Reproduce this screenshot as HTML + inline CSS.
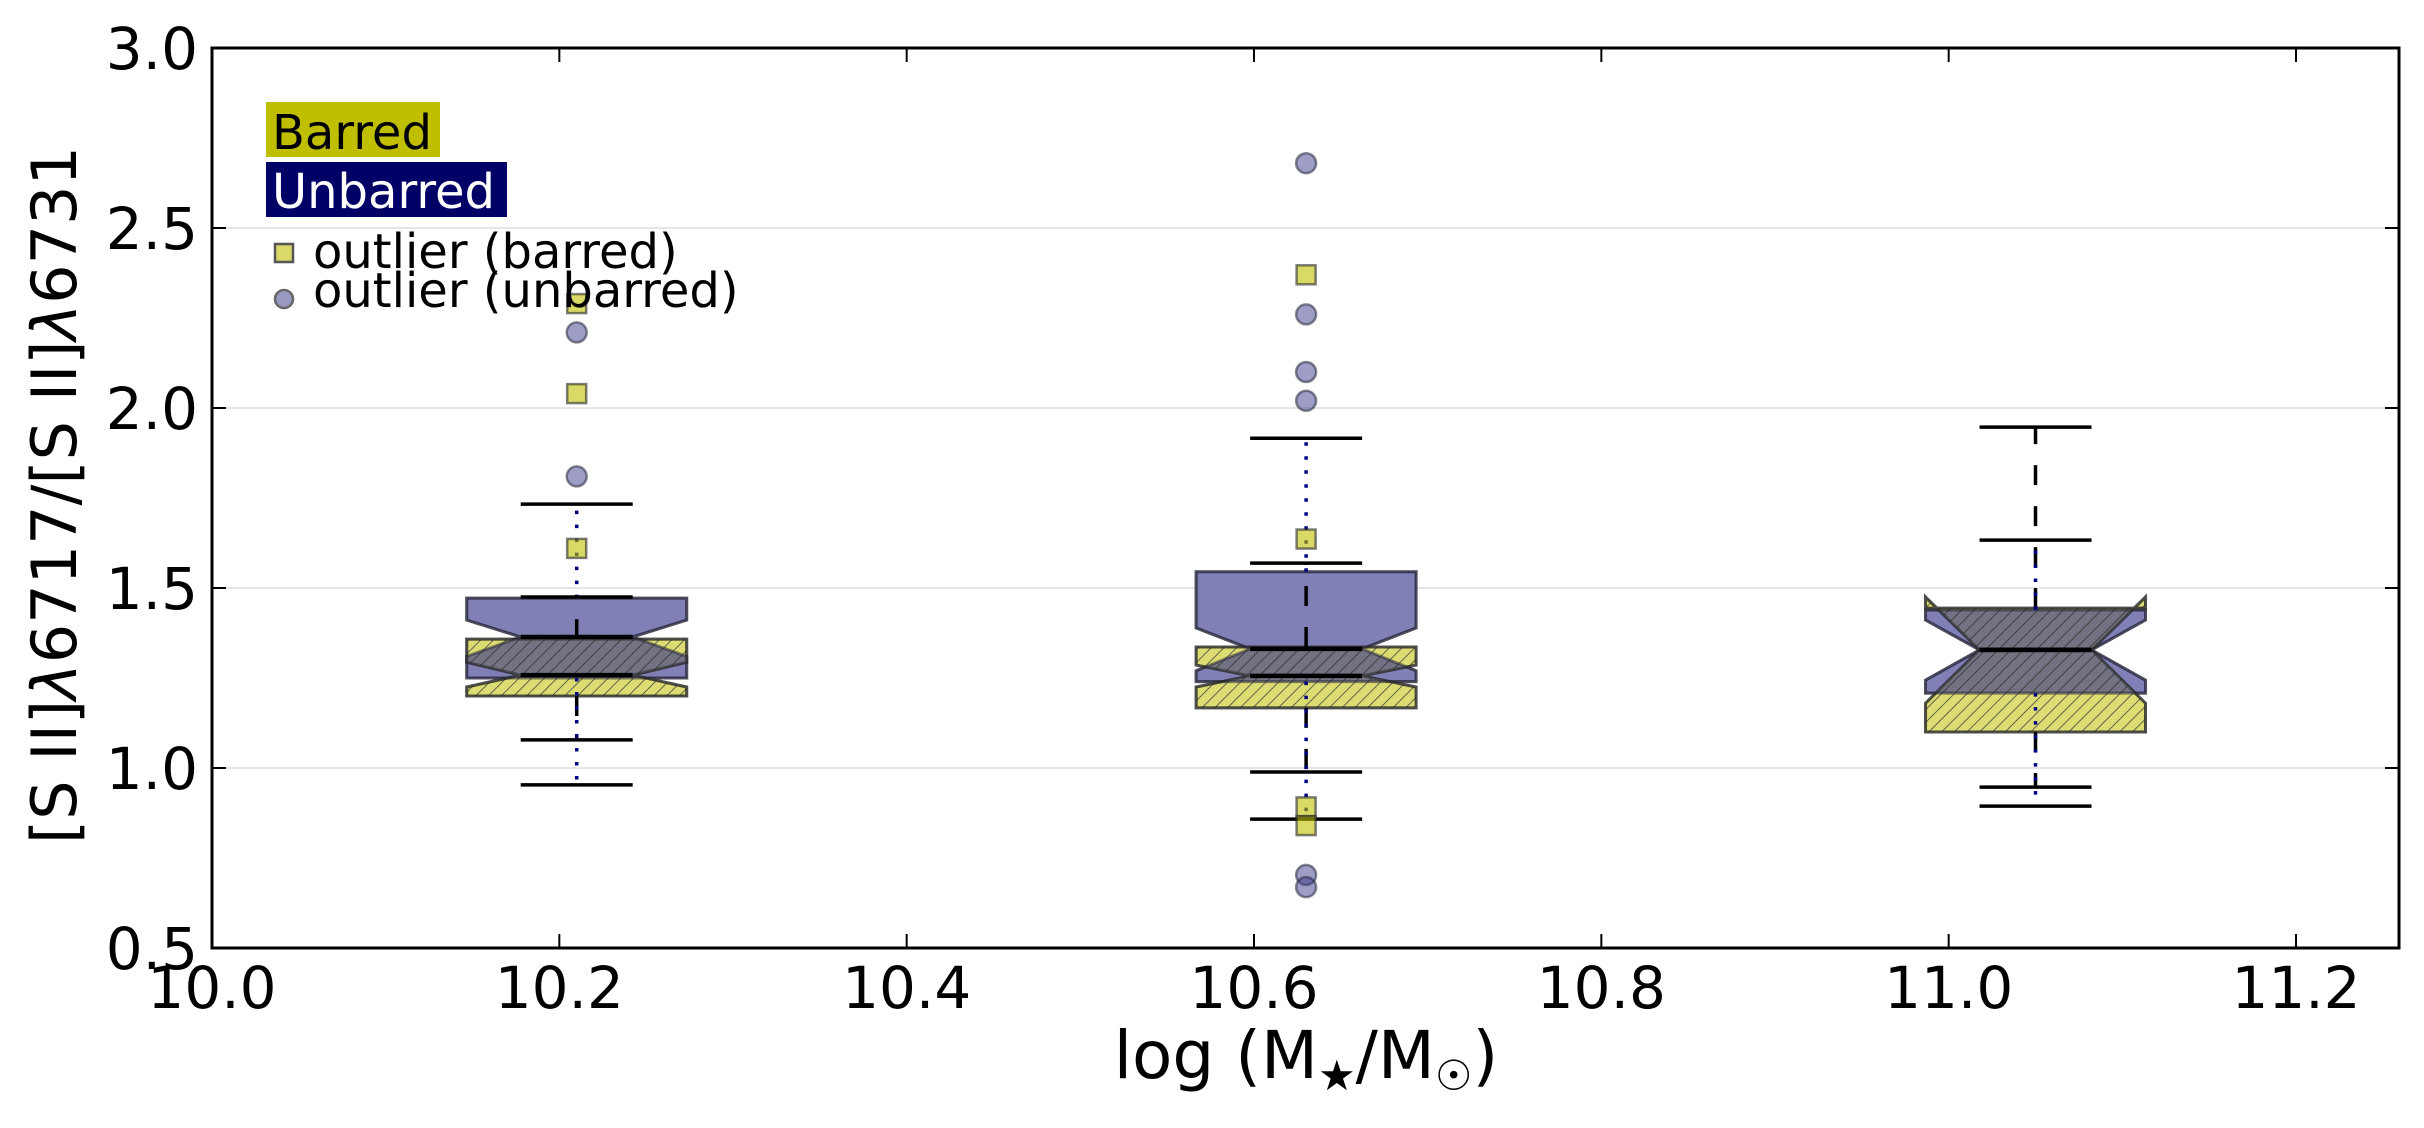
<!DOCTYPE html>
<html><head><meta charset="utf-8"><style>
html,body{margin:0;padding:0;background:#fff;}
svg{display:block;font-family:"DejaVu Sans","Liberation Sans",sans-serif;}
</style></head><body>
<svg id="chart" width="2424" height="1128" viewBox="0 0 2424 1128" xmlns="http://www.w3.org/2000/svg">
<defs id="defs">
<pattern id="hatch" patternUnits="userSpaceOnUse" width="9" height="9" patternTransform="rotate(45)">
<rect width="9" height="9" fill="#dcdc72"/>
<line x1="0" y1="0" x2="0" y2="9" stroke="#444" stroke-width="1.6"/>
</pattern>
<pattern id="hatchgray" patternUnits="userSpaceOnUse" width="9" height="9" patternTransform="rotate(45)">
<rect width="9" height="9" fill="#727282"/>
<line x1="0" y1="0" x2="0" y2="9" stroke="#333" stroke-width="1.6"/>
</pattern>
<clipPath id="plotclip"><rect x="212" y="48" width="2187" height="900"/></clipPath>
</defs>
<rect x="0" y="0" width="2424" height="1128" fill="#fff"/>
<g id="grid"></g>
<g id="marks" clip-path="url(#plotclip)"></g>
<rect x="212" y="48" width="2187" height="900" fill="none" stroke="#000" stroke-width="3"/>
<g id="axes"></g>
<g>
<rect x="266" y="102" width="174" height="55" fill="#bfbf00"/>
<text x="272" y="149" font-size="48" fill="#000">Barred</text>
<rect x="266" y="162" width="241" height="55" fill="#000066"/>
<text x="272" y="208" font-size="48" fill="#fff">Unbarred</text>
<rect x="275" y="244" width="18" height="18" fill="#d9d96a" stroke="#555" stroke-width="2.5"/>
<text x="313" y="268" font-size="48" fill="#000">outlier (barred)</text>
<circle cx="284" cy="299" r="9" fill="#9999c4" stroke="#666" stroke-width="2.5"/>
<text x="313" y="307" font-size="48" fill="#000">outlier (unbarred)</text>
</g>
<text x="1306" y="1078" font-size="66" text-anchor="middle" fill="#000">log (M<tspan font-size="42" dy="12">★</tspan><tspan dy="-12">/M</tspan><tspan font-size="42" dy="12">☉</tspan><tspan dy="-12">)</tspan></text>
<text transform="translate(76,495) rotate(-90)" font-size="62" text-anchor="middle" fill="#000">[S II]<tspan font-style="italic">λ</tspan>6717/[S II]<tspan font-style="italic">λ</tspan>6731</text>
</svg>
<script>
const groupX = [10.21, 10.63, 11.05];
const barredQ1 = [1.20, 1.167, 1.10];
const barredMed = [1.258, 1.256, 1.328];
const barredQ3 = [1.358, 1.336, 1.444];
const barredNotchLo = [1.225, 1.225, 1.18];
const barredNotchHi = [1.294, 1.286, 1.475];
const barredWhiskerLo = [1.078, 0.989, 0.947];
const barredWhiskerHi = [1.475, 1.569, 1.947];
const unbarredQ1 = [1.25, 1.24, 1.208];
const unbarredMed = [1.364, 1.331, 1.328];
const unbarredQ3 = [1.472, 1.545, 1.439];
const unbarredNotchLo = [1.31, 1.27, 1.244];
const unbarredNotchHi = [1.411, 1.389, 1.411];
const unbarredWhiskerLo = [0.953, 0.858, 0.894];
const unbarredWhiskerHi = [1.733, 1.916, 1.633];
const barredOutlierGroup = [0, 0, 0, 1, 1, 1, 1];
const barredOutlierVal = [2.29, 2.04, 1.61, 2.37, 1.636, 0.892, 0.84];
const unbarredOutlierGroup = [0, 0, 1, 1, 1, 1, 1, 1];
const unbarredOutlierVal = [2.21, 1.81, 2.68, 2.26, 2.10, 2.02, 0.703, 0.669];
const xTicks = [10.0, 10.2, 10.4, 10.6, 10.8, 11.0, 11.2];
const xTickLabels = ["10.0", "10.2", "10.4", "10.6", "10.8", "11.0", "11.2"];
const yTicks = [0.5, 1.0, 1.5, 2.0, 2.5, 3.0];
const yTickLabels = ["0.5", "1.0", "1.5", "2.0", "2.5", "3.0"];
const gridVals = [1.0, 1.5, 2.0, 2.5];

const L = 212, R = 2399, T = 48, B = 948;
const xMin = 10.0, xMax = 11.2593, yMin = 0.5, yMax = 3.0;
function xs(v){ return L + (v - xMin) / (xMax - xMin) * (R - L); }
function ys(v){ return B - (v - yMin) / (yMax - yMin) * (B - T); }
const NS = "http://www.w3.org/2000/svg";
function mk(tag, attrs, parent){
  const e = document.createElementNS(NS, tag);
  for (const k in attrs) e.setAttribute(k, attrs[k]);
  parent.appendChild(e);
  return e;
}
const grid = document.getElementById('grid');
const marks = document.getElementById('marks');
const axes = document.getElementById('axes');
const defs = document.getElementById('defs');

gridVals.forEach(v => {
  const g = mk('line', {x1: L, x2: R, y1: ys(v), y2: ys(v), stroke: '#e6e6e6', 'stroke-width': 2}, grid);
  
  
});

const HW = 110, NW = 56;
function boxPath(cx, q1, nlo, med, nhi, q3){
  const l = cx - HW, r = cx + HW, cl = cx - NW, cr = cx + NW;
  return `M${l},${ys(q1)} L${l},${ys(nlo)} L${cl},${ys(med)} L${l},${ys(nhi)} L${l},${ys(q3)} L${r},${ys(q3)} L${r},${ys(nhi)} L${cr},${ys(med)} L${r},${ys(nlo)} L${r},${ys(q1)} Z`;
}

groupX.forEach((gx, i) => {
  const cx = xs(gx);
  const ubD = boxPath(cx, unbarredQ1[i], unbarredNotchLo[i], unbarredMed[i], unbarredNotchHi[i], unbarredQ3[i]);
  const bbD = boxPath(cx, barredQ1[i], barredNotchLo[i], barredMed[i], barredNotchHi[i], barredQ3[i]);
  const cp = mk('clipPath', {id: 'ubclip' + i}, defs);
  mk('path', {d: ubD}, cp);
  const ub = mk('path', {d: ubD, fill: '#8080b6', stroke: 'rgba(40,40,60,0.6)', 'stroke-width': 3}, marks);
  
  
  const bb = mk('path', {d: bbD, fill: 'url(#hatch)', stroke: 'rgba(40,40,40,0.6)', 'stroke-width': 3}, marks);
  
  
  const ov = mk('path', {d: bbD, fill: 'url(#hatchgray)', 'clip-path': 'url(#ubclip' + i + ')'}, marks);
  
  
  const ubo = mk('path', {d: ubD, fill: 'none', stroke: 'rgba(40,40,60,0.55)', 'stroke-width': 3}, marks);
  
  
  const bbo = mk('path', {d: bbD, fill: 'none', stroke: 'rgba(40,40,40,0.55)', 'stroke-width': 3}, marks);
  
  

  [[barredQ3[i], barredWhiskerHi[i]], [barredQ1[i], barredWhiskerLo[i]]].forEach(p => {
    const w = mk('line', {x1: cx, x2: cx, y1: ys(p[0]), y2: ys(p[1]), stroke: '#000', 'stroke-width': 3.5, 'stroke-dasharray': '20 21'}, marks);
    
    
  });
  [[unbarredQ3[i], unbarredWhiskerHi[i]], [unbarredQ1[i], unbarredWhiskerLo[i]]].forEach(p => {
    const w = mk('line', {x1: cx, x2: cx, y1: ys(p[0]), y2: ys(p[1]), stroke: '#000080', 'stroke-width': 3.5, 'stroke-dasharray': '3.5 10.5'}, marks);
    
    
  });
  [barredWhiskerHi[i], barredWhiskerLo[i], unbarredWhiskerHi[i], unbarredWhiskerLo[i]].forEach(v => {
    const c = mk('line', {x1: cx - NW, x2: cx + NW, y1: ys(v), y2: ys(v), stroke: '#000', 'stroke-width': 3.5}, marks);
    
    
  });
  [barredMed[i], unbarredMed[i]].forEach(v => {
    const m = mk('line', {x1: cx - NW, x2: cx + NW, y1: ys(v), y2: ys(v), stroke: '#000', 'stroke-width': 4.5}, marks);
    
    
  });
});

barredOutlierVal.forEach((v, k) => {
  const cx = xs(groupX[barredOutlierGroup[k]]);
  const s = mk('rect', {x: cx - 9.5, y: ys(v) - 9.5, width: 19, height: 19, fill: 'rgba(191,191,0,0.6)', stroke: 'rgba(40,40,40,0.6)', 'stroke-width': 2.5}, marks);
  
  
});
unbarredOutlierVal.forEach((v, k) => {
  const cx = xs(groupX[unbarredOutlierGroup[k]]);
  const c = mk('circle', {cx: cx, cy: ys(v), r: 10, fill: 'rgba(60,60,140,0.5)', stroke: 'rgba(40,40,60,0.55)', 'stroke-width': 2.5}, marks);
  
  
});

xTicks.forEach((v, k) => {
  const x = xs(v);
  const t1 = mk('line', {x1: x, x2: x, y1: B, y2: B - 14, stroke: '#000', 'stroke-width': 2}, axes);
  
  
  const t2 = mk('line', {x1: x, x2: x, y1: T, y2: T + 14, stroke: '#000', 'stroke-width': 2}, axes);
  
  
  const lb = mk('text', {x: x, y: 1008, 'font-size': 58, 'text-anchor': 'middle', fill: '#000'}, axes);
  lb.textContent = xTickLabels[k];
  
  
});
yTicks.forEach((v, k) => {
  const y = ys(v);
  const t1 = mk('line', {x1: L, x2: L + 14, y1: y, y2: y, stroke: '#000', 'stroke-width': 2}, axes);
  
  
  const t2 = mk('line', {x1: R, x2: R - 14, y1: y, y2: y, stroke: '#000', 'stroke-width': 2}, axes);
  
  
  const lb = mk('text', {x: 198, y: y + 21, 'font-size': 58, 'text-anchor': 'end', fill: '#000'}, axes);
  lb.textContent = yTickLabels[k];
  
  
});
</script>
</body></html>
